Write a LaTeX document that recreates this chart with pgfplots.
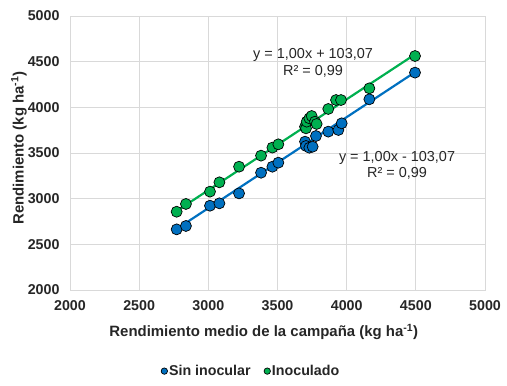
\documentclass[border=0pt]{standalone}
\usepackage{pgfplots}
\pgfplotsset{compat=1.18}
\usepackage{fontspec}
\setmainfont{Liberation Sans}
\definecolor{cblue}{HTML}{0070C0}
\definecolor{cgreen}{HTML}{00B050}
\definecolor{cgrid}{HTML}{D9D9D9}
\begin{document}
\begin{tikzpicture}[x=1bp,y=1bp]
\useasboundingbox (0,0) rectangle (507,385);
\begin{axis}[at={(70bp,95bp)}, anchor=south west,
  width=415bp, height=274bp, scale only axis,
  xmin=2000, xmax=5000, ymin=2000, ymax=5000,
  xtick distance=500, ytick distance=500,
  grid=major, grid style={cgrid, line width=0.9pt},
  axis line style={cgrid, line width=0.9pt},
  major tick length=0pt,
  ticklabel style={font=\fontsize{14.3}{16}\selectfont\bfseries, text=black!85},
  yticklabel style={xshift=-7bp},
  xticklabel style={yshift=-7bp},
  /pgf/number format/assume math mode=true,
  /pgf/number format/1000 sep={},
  xlabel={Rendimiento medio de la campaña (kg ha\textsuperscript{-1})},
  ylabel={Rendimiento (kg ha\textsuperscript{-1})},
  label style={font=\fontsize{15}{17}\selectfont\bfseries, text=black!85},
  xlabel style={at={(axis description cs:0.467,-0.153)}, anchor=center},
  ylabel style={at={(axis description cs:-0.123,0.518)}, anchor=center},
  legend style={at={(axis description cs:0.436,-0.296)}, anchor=center, draw=none,
    font=\fontsize{14.3}{16}\selectfont\bfseries, text=black!85,
    /tikz/every even column/.append style={column sep=12bp},
    inner sep=0pt, nodes={inner sep=1.5bp}},
  legend columns=2,
  legend image code/.code={\draw[#1, mark size=3.2bp] plot coordinates {(0bp,0bp)};},
]
\addplot[cgreen, line width=2.2pt, forget plot] coordinates {(2771,2865) (4494,4580)};
\addplot[cblue, line width=2.2pt, forget plot] coordinates {(2771,2668) (4494,4385)};
\addplot[only marks, mark=*, mark size=5.5bp, mark options={fill=cblue, draw=black, line width=0.7pt}] coordinates {
(2771,2664) (2838,2701) (3012,2923) (3080,2949) (3222,3058) (3381,3284)
(3463,3350) (3506,3394) (3699,3624) (3706,3577) (3730,3558) (3754,3569)
(3778,3686) (3867,3734) (3940,3752) (3964,3825) (4164,4088) (4494,4380)
};
\addlegendentry{Sin inocular}
\addplot[only marks, mark=*, mark size=5.5bp, mark options={fill=cgreen, draw=black, line width=0.7pt}] coordinates {
(2771,2857) (2838,2942) (3012,3077) (3080,3179) (3222,3350) (3381,3471)
(3463,3559) (3506,3595) (3699,3788) (3706,3770) (3711,3843) (3730,3880)
(3747,3905) (3771,3843) (3783,3818) (3867,3982) (3923,4080) (3959,4080)
(4164,4208) (4494,4562)
};
\addlegendentry{Inoculado}
\node[align=center, font=\fontsize{14.5}{16.5}\selectfont, text=black!85] at (axis cs:3757,4485) {y = 1,00x + 103,07\\R² = 0,99};
\node[align=center, font=\fontsize{14.5}{16.5}\selectfont, text=black!85] at (axis cs:4364,3363) {y = 1,00x - 103,07\\R² = 0,99};
\end{axis}
\end{tikzpicture}
\end{document}
